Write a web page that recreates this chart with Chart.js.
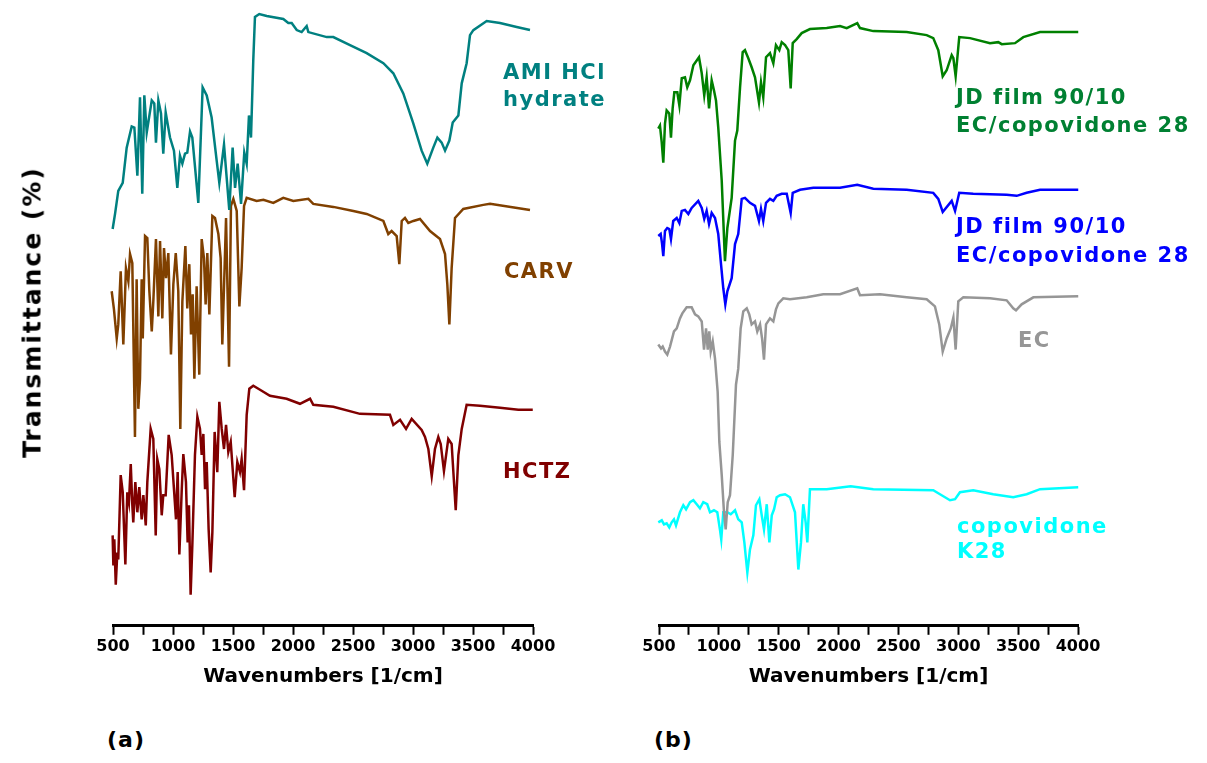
<!DOCTYPE html>
<html>
<head>
<meta charset="utf-8">
<script src="https://cdn.jsdelivr.net/npm/chart.js@4.4.1/dist/chart.umd.min.js"></script>
<style>
  body { margin: 0; background: #fff; width: 1207px; height: 763px; position: relative; overflow: hidden; font-family: 'DejaVu Sans', sans-serif; }
  .panel { position: absolute; top: 0; height: 700px; }
  #ytitle { position: absolute; left: 32px; top: 312px; transform: translate(-50%, -50%) rotate(-90deg); white-space: nowrap;
            font: bold 25px 'DejaVu Sans'; letter-spacing: 2px; color: #000; }
  .plabel { position: absolute; top: 727px; font: bold 22px 'DejaVu Sans'; letter-spacing: 1px; color: #000; }
</style>
</head>
<body>
<div class="panel" style="left:0;width:640px"><canvas id="panelA" width="640" height="700"></canvas></div>
<div class="panel" style="left:560px;width:647px"><canvas id="panelB" width="647" height="700"></canvas></div>
<div id="ytitle">Transmittance (%)</div>
<div class="plabel" style="left:107px">(a)</div>
<div class="plabel" style="left:654px">(b)</div>
<script>
const colorEje = '#000';// color del eje x y sus textos
const tickValores = [500, 1000, 1500, 2000, 2500, 3000, 3500, 4000];

// (a) AMI HCl hydrate - numeros de onda y transmitancia (u.a., desplazada)
const wnAmi = [461, 497, 517, 544, 581, 614, 656, 678, 703, 725, 744, 761, 781, 823, 844, 858, 878, 900, 919, 939, 975, 1008, 1036, 1058, 1078, 1100, 1119, 1142, 1161, 1211, 1247, 1281, 1322, 1364, 1386, 1425, 1469, 1497, 1517, 1539, 1567, 1594, 1614, 1633, 1650, 1669, 1683, 1719, 1781, 1919, 1961, 1989, 2031, 2072, 2114, 2128, 2281, 2336, 2475, 2614, 2753, 2836, 2919, 3003, 3072, 3119, 3169, 3203, 3239, 3267, 3303, 3331, 3378, 3406, 3447, 3475, 3503, 3614, 3725, 3864, 3975];
const tAmi = [400, 395, 410, 433, 441, 476, 497, 496, 448, 526, 430, 528, 491, 523, 520, 481, 523, 510, 470, 511, 486, 473, 436, 468, 460, 470, 471, 492, 486, 421, 536, 528, 506, 463, 441, 479, 414, 476, 436, 460, 420, 471, 460, 508, 486, 563, 606, 609, 607, 604, 600, 600, 593, 591, 597, 591, 586, 586, 578, 570, 560, 550, 530, 500, 473, 460, 476, 486, 481, 473, 483, 501, 508, 540, 560, 588, 593, 602, 600, 596, 593];

// (a) CARV
const wnCarv = [461, 475, 489, 508, 531, 544, 564, 586, 608, 628, 642, 661, 683, 697, 711, 725, 739, 748, 767, 786, 803, 823, 836, 858, 878, 892, 911, 925, 942, 961, 983, 1003, 1023, 1044, 1061, 1078, 1103, 1119, 1136, 1150, 1164, 1178, 1197, 1219, 1239, 1258, 1272, 1286, 1303, 1328, 1350, 1378, 1397, 1411, 1442, 1467, 1483, 1503, 1531, 1553, 1572, 1592, 1614, 1697, 1753, 1836, 1919, 2003, 2128, 2169, 2336, 2503, 2614, 2753, 2794, 2822, 2864, 2886, 2906, 2933, 2961, 3003, 3058, 3142, 3225, 3267, 3286, 3303, 3322, 3350, 3419, 3586, 3642, 3975];
const tCarv = [338, 316, 333, 315, 286, 300, 353, 280, 356, 343, 370, 361, 188, 345, 216, 246, 345, 286, 388, 386, 333, 293, 323, 385, 308, 383, 306, 376, 346, 371, 270, 340, 371, 333, 196, 323, 378, 316, 360, 290, 330, 246, 338, 250, 385, 366, 320, 371, 310, 408, 406, 390, 366, 280, 406, 258, 418, 425, 413, 318, 356, 418, 426, 423, 424, 421, 426, 423, 425, 420, 417, 413, 410, 403, 390, 393, 388, 360, 403, 406, 401, 403, 405, 393, 385, 370, 340, 300, 356, 406, 415, 419, 420, 414];

// (a) HCTZ
const wnHctz = [497, 503, 511, 523, 536, 544, 564, 581, 603, 619, 633, 648, 661, 669, 686, 703, 719, 739, 753, 773, 786, 814, 836, 856, 869, 886, 906, 919, 939, 964, 989, 1025, 1039, 1053, 1073, 1086, 1108, 1122, 1133, 1147, 1161, 1183, 1203, 1225, 1239, 1253, 1267, 1281, 1297, 1314, 1328, 1347, 1369, 1386, 1406, 1425, 1442, 1461, 1481, 1514, 1536, 1558, 1572, 1592, 1614, 1636, 1669, 1725, 1808, 1947, 2058, 2142, 2169, 2336, 2558, 2808, 2836, 2892, 2942, 2989, 3072, 3100, 3128, 3156, 3183, 3211, 3231, 3258, 3294, 3322, 3356, 3378, 3406, 3447, 3558, 3725, 3878, 3998];
const tHctz = [90, 60, 86, 41, 73, 66, 150, 133, 61, 133, 123, 161, 120, 103, 143, 113, 138, 106, 130, 100, 143, 196, 186, 90, 166, 156, 110, 130, 130, 190, 170, 106, 153, 71, 136, 171, 143, 83, 120, 31, 80, 170, 208, 196, 170, 191, 136, 163, 96, 53, 93, 193, 153, 223, 196, 176, 200, 173, 183, 128, 163, 153, 166, 135, 210, 236, 239, 235, 229, 226, 221, 226, 220, 218, 211, 210, 200, 205, 196, 206, 195, 188, 176, 149, 176, 188, 181, 154, 186, 181, 115, 170, 196, 220, 219, 217, 215, 215];

// (b) JD film 90/10 EC/copovidone 28 (verde)
const wnJdVerde = [494, 508, 523, 536, 550, 564, 586, 600, 614, 628, 653, 670, 690, 717, 736, 759, 787, 834, 857, 878, 898, 918, 940, 959, 976, 995, 1024, 1051, 1071, 1107, 1135, 1154, 1177, 1199, 1218, 1246, 1274, 1302, 1335, 1352, 1371, 1394, 1427, 1455, 1477, 1505, 1525, 1553, 1580, 1600, 1617, 1650, 1692, 1761, 1901, 2012, 2068, 2156, 2179, 2290, 2569, 2736, 2791, 2833, 2870, 2903, 2945, 2959, 2978, 3008, 3098, 3265, 3334, 3363, 3474, 3543, 3683, 3822, 4002];
const tJdVerde = [495, 498, 481, 461, 500, 513, 510, 486, 515, 531, 531, 518, 545, 546, 536, 543, 558, 566, 550, 528, 546, 515, 543, 533, 523, 496, 443, 363, 396, 426, 483, 493, 536, 571, 573, 565, 556, 546, 521, 541, 526, 566, 570, 560, 578, 573, 581, 578, 573, 535, 580, 584, 590, 594, 595, 597, 595, 600, 595, 592, 591, 588, 585, 573, 547, 553, 568, 565, 547, 586, 585, 580, 581, 579, 580, 586, 591, 591, 591];

// (b) JD film 90/10 EC/copovidone 28 (azul)
const wnJdAzul = [494, 514, 525, 536, 550, 569, 586, 600, 619, 648, 670, 690, 717, 745, 773, 828, 857, 878, 898, 918, 940, 968, 995, 1018, 1037, 1054, 1071, 1107, 1135, 1162, 1191, 1218, 1260, 1302, 1335, 1352, 1371, 1394, 1427, 1455, 1483, 1525, 1567, 1600, 1617, 1678, 1789, 2012, 2156, 2290, 2569, 2791, 2833, 2870, 2945, 2973, 3008, 3125, 3404, 3488, 3571, 3683, 4002];
const tJdAzul = [388, 390, 381, 368, 393, 396, 395, 385, 403, 406, 401, 413, 414, 410, 416, 423, 416, 405, 413, 400, 411, 406, 390, 360, 336, 320, 333, 346, 380, 390, 425, 426, 421, 418, 403, 415, 403, 421, 425, 423, 428, 430, 430, 411, 431, 434, 436, 436, 439, 435, 434, 431, 425, 412, 423, 413, 431, 430, 429, 428, 431, 434, 434];

// (b) EC
const wnEc = [494, 517, 531, 550, 569, 592, 625, 648, 675, 695, 731, 773, 801, 828, 857, 876, 893, 907, 920, 932, 949, 968, 990, 1004, 1024, 1043, 1057, 1074, 1093, 1116, 1143, 1162, 1182, 1204, 1233, 1254, 1274, 1302, 1321, 1344, 1361, 1377, 1394, 1427, 1455, 1477, 1497, 1538, 1594, 1734, 1872, 2012, 2156, 2179, 2346, 2569, 2736, 2805, 2841, 2870, 2903, 2937, 2959, 2978, 3000, 3042, 3265, 3404, 3459, 3482, 3529, 3627, 4002];
const tEc = [280, 276, 278, 273, 270, 278, 293, 296, 306, 311, 317, 317, 310, 308, 303, 275, 296, 275, 293, 273, 283, 266, 233, 183, 150, 113, 96, 123, 130, 170, 240, 256, 296, 313, 316, 310, 300, 303, 293, 300, 286, 265, 300, 306, 303, 315, 321, 326, 325, 327, 330, 330, 336, 329, 330, 327, 325, 318, 300, 273, 286, 296, 307, 275, 323, 327, 326, 324, 316, 314, 320, 327, 328];

// (b) copovidone K28
const wnCopo = [494, 523, 542, 564, 586, 606, 625, 642, 675, 703, 726, 759, 787, 815, 842, 870, 903, 926, 959, 987, 1010, 1020, 1037, 1071, 1099, 1135, 1162, 1191, 1213, 1238, 1260, 1288, 1310, 1338, 1358, 1377, 1400, 1422, 1442, 1461, 1483, 1511, 1553, 1594, 1636, 1664, 1686, 1705, 1725, 1739, 1761, 1901, 2101, 2290, 2791, 2847, 2931, 2973, 3014, 3125, 3292, 3459, 3571, 3683, 4002];
const tCopo = [103, 105, 101, 102, 98, 103, 106, 100, 113, 120, 116, 123, 125, 121, 117, 123, 121, 113, 115, 113, 95, 86, 113, 113, 111, 115, 106, 103, 83, 53, 76, 90, 120, 126, 110, 96, 121, 83, 110, 116, 128, 130, 131, 128, 113, 56, 83, 121, 103, 83, 136, 136, 139, 136, 135, 131, 125, 126, 133, 135, 131, 128, 131, 136, 138];

// etiquetas de cada espectro: texto, color, numero de onda (borde izq.) y altura de cada linea
const etiquetasA = [
    { texto: ['AMI HCl', 'hydrate'], color: 'rgb(0, 128, 128)', wn: 3750, t: [550, 523] },
    { texto: ['CARV'], color: 'rgb(128, 64, 0)', wn: 3758, t: [352] },
    { texto: ['HCTZ'], color: 'rgb(128, 0, 0)', wn: 3750, t: [153] }
];
const etiquetasB = [
    { texto: ['JD film 90/10', 'EC/copovidone 28'], color: 'rgb(0, 128, 50)', wn: 2981, t: [525, 497] },
    { texto: ['JD film 90/10', 'EC/copovidone 28'], color: 'rgb(0, 0, 255)', wn: 2981, t: [396, 368] },
    { texto: ['EC'], color: 'rgb(150, 150, 150)', wn: 3499, t: [283] },
    { texto: ['copovidone', 'K28'], color: 'rgb(0, 255, 255)', wn: 2989, t: [98, 73] }
];

function puntos(wn, t) {
    return wn.map((x, i) => ({ x: x, y: t[i] }));
}

function serie(wn, t, color) {
    return { data: puntos(wn, t), borderColor: color, backgroundColor: color, borderWidth: 2.5, pointRadius: 0, tension: 0, clip: false };
}

// plugin que escribe el nombre de cada espectro
const pluginEtiquetas = {
    id: 'etiquetas',
    afterDatasetsDraw(chart, args, opts) {
        const ctx = chart.ctx;
        ctx.save();
        ctx.font = 'bold 21px "DejaVu Sans"';
        ctx.letterSpacing = '1.5px';
        ctx.textBaseline = 'middle';
        ctx.textAlign = 'left';
        opts.items.forEach(e => {
            ctx.fillStyle = e.color;
            const x = chart.scales.x.getPixelForValue(e.wn);
            e.texto.forEach((linea, i) => {
                ctx.fillText(linea, x, chart.scales.y.getPixelForValue(e.t[i]));
            });
        });
        ctx.restore();
    }
};

function opciones(padIzq, padDer, etiquetas) {
    return {
        responsive: false,
        animation: false,
        layout: { padding: { left: padIzq, right: padDer, top: 10, bottom: 7 } },
        scales: {
            x: {
                type: 'linear',
                min: 500,
                max: 4000,
                border: { display: true, width: 3, color: colorEje },
                grid: { drawOnChartArea: false, drawTicks: true, tickLength: 9, tickWidth: 2, tickColor: colorEje },
                ticks: {
                    stepSize: 250,
                    autoSkip: false,
                    maxRotation: 0,
                    padding: 2,
                    color: colorEje,
                    font: { size: 16, weight: 'bold' },
                    callback: v => (tickValores.includes(v) ? String(v) : '')
                },
                title: { display: true, text: 'Wavenumbers [1/cm]', color: colorEje, font: { size: 20, weight: 'bold' }, padding: { top: 7, bottom: 4 } }
            },
            y: { display: false, min: 0, max: 613 }
        },
        plugins: { legend: { display: false }, tooltip: { enabled: false }, etiquetas: { items: etiquetas } }
    };
}

Chart.defaults.font.family = '"DejaVu Sans"';

const graficoA = new Chart(document.getElementById('panelA'), {
    type: 'line',
    data: {
        datasets: [
            serie(wnAmi, tAmi, 'rgb(0, 128, 128)'),
            serie(wnCarv, tCarv, 'rgb(128, 64, 0)'),
            serie(wnHctz, tHctz, 'rgb(128, 0, 0)')
        ]
    },
    options: opciones(113, 107, etiquetasA),
    plugins: [pluginEtiquetas]
});

const graficoB = new Chart(document.getElementById('panelB'), {
    type: 'line',
    data: {
        datasets: [
            serie(wnJdVerde, tJdVerde, 'rgb(0, 128, 0)'),
            serie(wnJdAzul, tJdAzul, 'rgb(0, 0, 255)'),
            serie(wnEc, tEc, 'rgb(150, 150, 150)'),
            serie(wnCopo, tCopo, 'rgb(0, 255, 255)')
        ]
    },
    options: opciones(99, 129, etiquetasB),
    plugins: [pluginEtiquetas]
});
</script>
</body>
</html>
